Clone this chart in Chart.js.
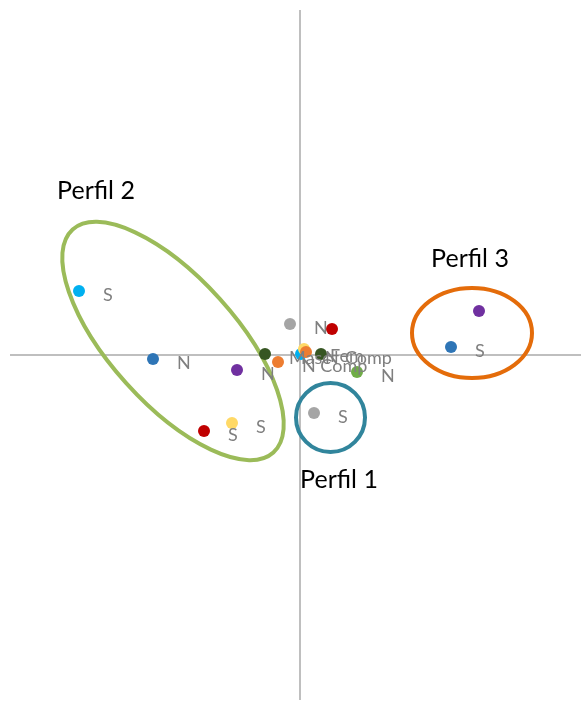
<!DOCTYPE html>
<html>
<head>
<meta charset="utf-8">
<script src="https://cdn.jsdelivr.net/npm/chart.js@4"></script>
<style>
  body { margin: 0; background: #fff; }
  #wrap { width: 582px; height: 702px; position: relative; }
</style>
</head>
<body>
<div id="wrap"><canvas id="myChart"></canvas></div>
<script>
// series (one per colour in the original), coordinates on the two factor axes
const seriesNames = ['Azul', 'Naranja', 'Gris', 'Amarillo', 'Celeste', 'Rojo', 'Morado', 'Verde', 'Verde oscuro'];
const seriesColors = ['#2E75B6', '#ED7D31', '#A5A5A5', '#FFD966', '#00B0F0', '#C00000', '#7030A0', '#70AD47', '#375623'];
const seriesX = [
  [-1.47, 1.51],
  [-0.22, 0.06],
  [-0.10, 0.14],
  [0.04, -0.68],
  [-2.21, 0.01],
  [0.32, -0.96],
  [-0.63, 1.79],
  [0.57],
  [-0.35, 0.21]
];
const seriesY = [
  [-0.04, 0.08],
  [-0.07, 0.03],
  [0.31, -0.58],
  [0.06, -0.68],
  [0.64, 0.01],
  [0.26, -0.76],
  [-0.15, 0.44],
  [-0.17],
  [0.01, 0.01]
];
const seriesLabels = [
  ['N', 'S'],
  ['N Comp', 'Fem'],
  ['N', 'S'],
  ['', 'S'],
  ['S', 'N'],
  ['', 'S'],
  ['N', ''],
  ['N'],
  ['Masc', 'Comp']
];

// profile groups
const perfilNames = ['Perfil 1', 'Perfil 2', 'Perfil 3'];
const perfilTextX = [0.39, -2.04, 1.70];
const perfilTextY = [-1.33, 1.56, 0.88];
const perfilCx = [0.305, -1.27, 1.72];
const perfilCy = [-0.625, 0.14, 0.22];
const perfilRx = [0.345, 1.50, 0.60];
const perfilRy = [0.345, 0.63, 0.45];
const perfilAngle = [0, 48, 0];
const perfilColors = ['#31859C', '#9BBB59', '#E46C0A'];

const datasets = seriesNames.map((name, i) => ({
  label: name,
  data: seriesX[i].map((x, j) => ({ x, y: seriesY[i][j] })),
  labels: seriesLabels[i],
  backgroundColor: seriesColors[i],
  borderWidth: 0,
  pointRadius: 6,
  pointHoverRadius: 6
}));

const perfilPlugin = {
  id: 'perfiles',
  beforeDatasetsDraw(chart) {
    const { ctx, chartArea: a, scales: { x, y } } = chart;
    ctx.save();
    // axes through the origin
    const x0 = x.getPixelForValue(0);
    const y0 = y.getPixelForValue(0);
    ctx.strokeStyle = '#BFBFBF';
    ctx.lineWidth = 2;
    ctx.beginPath();
    ctx.moveTo(a.left, y0); ctx.lineTo(a.right, y0);
    ctx.moveTo(x0, a.top); ctx.lineTo(x0, a.bottom);
    ctx.stroke();
    // ellipses around each profile
    perfilNames.forEach((p, i) => {
      const cx = x.getPixelForValue(perfilCx[i]);
      const cy = y.getPixelForValue(perfilCy[i]);
      const rx = x.getPixelForValue(perfilCx[i] + perfilRx[i]) - cx;
      const ry = cy - y.getPixelForValue(perfilCy[i] + perfilRy[i]);
      ctx.beginPath();
      ctx.ellipse(cx, cy, rx, ry, perfilAngle[i] * Math.PI / 180, 0, Math.PI * 2);
      ctx.lineWidth = 4;
      ctx.strokeStyle = perfilColors[i];
      ctx.stroke();
    });
    ctx.restore();
  },
  afterDatasetsDraw(chart) {
    const { ctx, scales: { x, y } } = chart;
    ctx.save();
    // point labels, right of each point
    ctx.font = '18px Lato, "Open Sans", sans-serif';
    ctx.fillStyle = '#7F7F7F';
    ctx.textAlign = 'left';
    ctx.textBaseline = 'alphabetic';
    chart.data.datasets.forEach((ds, i) => {
      chart.getDatasetMeta(i).data.forEach((pt, j) => {
        const t = ds.labels[j];
        if (t) ctx.fillText(t, pt.x + 24, pt.y + 10);
      });
    });
    // profile titles
    ctx.font = '25px Lato, "Open Sans", sans-serif';
    ctx.fillStyle = '#000';
    ctx.textAlign = 'center';
    perfilNames.forEach((p, i) => {
      ctx.fillText(p, x.getPixelForValue(perfilTextX[i]), y.getPixelForValue(perfilTextY[i]));
    });
    ctx.restore();
  }
};

new Chart(document.getElementById('myChart').getContext('2d'), {
  type: 'scatter',
  data: { datasets },
  options: {
    responsive: true,
    maintainAspectRatio: false,
    animation: false,
    layout: { autoPadding: false, padding: { left: 10, right: 1, top: 10, bottom: 2 } },
    scales: {
      x: { type: 'linear', min: -2.9, max: 2.81, display: false },
      y: { type: 'linear', min: -3.45, max: 3.45, display: false }
    },
    plugins: {
      legend: { display: false },
      tooltip: { enabled: false }
    }
  },
  plugins: [perfilPlugin]
});
</script>
</body>
</html>
